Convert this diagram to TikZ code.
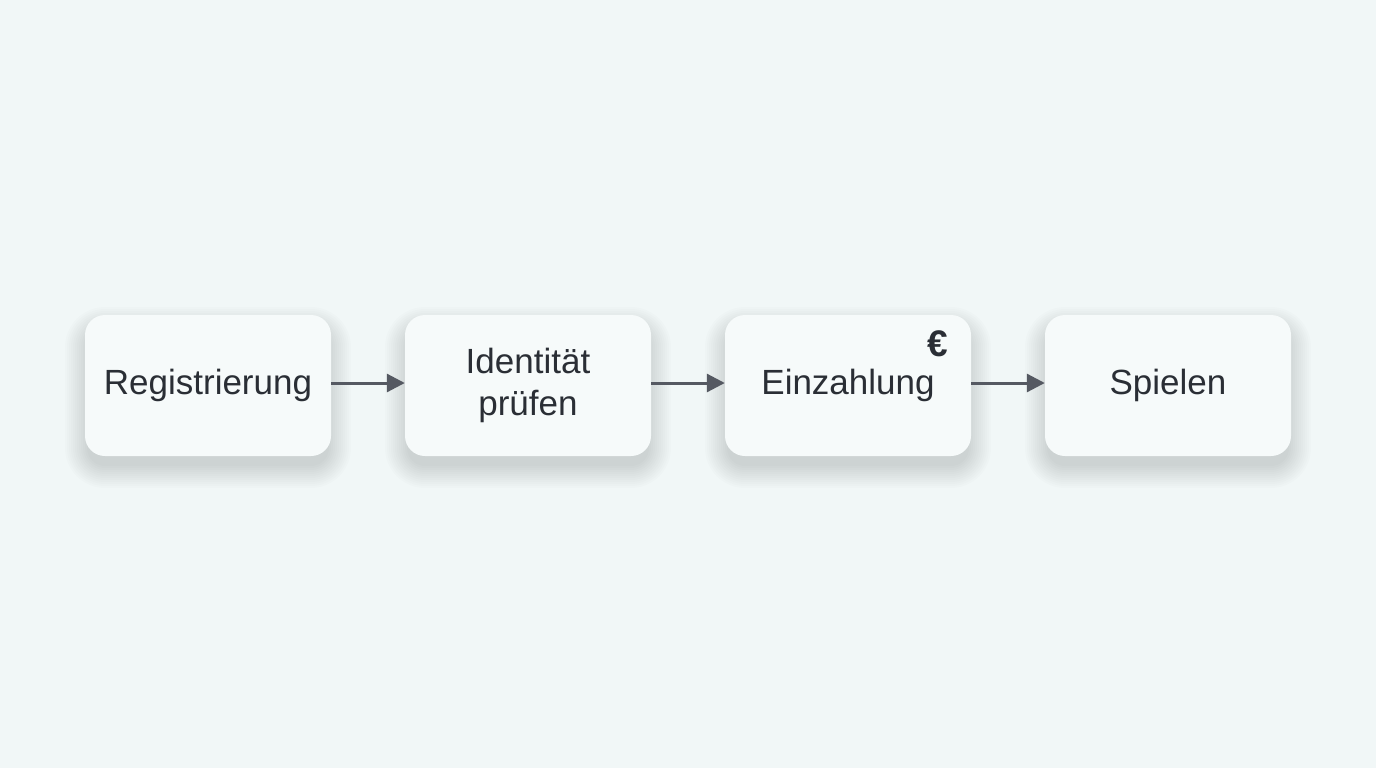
\documentclass[tikz,border=0pt]{standalone}
\usepackage{fontspec}
\setmainfont{Liberation Sans}
\usetikzlibrary{arrows.meta}
\definecolor{bg}{HTML}{F1F7F7}
\definecolor{boxfill}{HTML}{F6FAFA}
\definecolor{txt}{HTML}{2A2E35}
\definecolor{arr}{HTML}{555962}
\tikzset{
  stepbox/.style={rounded corners=20pt, minimum width=246pt, minimum height=141pt,
    fill=boxfill, draw=none, align=center, text=txt,
    font=\fontsize{35}{42}\selectfont},
  flow/.style={draw=arr, line width=3pt, -{Triangle[length=18pt,width=18pt]}},
  softshadow/.style={fill=black, fill opacity=0.011}
}
\newcommand{\boxshadow}[2]{%
  \foreach \e in {-2,0,...,20}{%
    \fill[softshadow, rounded corners={20pt+\e pt}]
      ({#1-123-\e},{#2-70.5-\e+12}) rectangle ({#1+123+\e},{#2+70.5+\e+12});
  }%
}
\begin{document}
\begin{tikzpicture}[x=1pt,y=-1pt]
\fill[bg] (0,0) rectangle (1376,768);
\useasboundingbox (0,0) rectangle (1376,768);
\boxshadow{208}{385.5}
\boxshadow{528}{385.5}
\boxshadow{848}{385.5}
\boxshadow{1168}{385.5}
\node[stepbox] (a) at (208,385.5) {Registrierung};
\node[stepbox] (b) at (528,385.5) {Identität\\prüfen};
\node[stepbox] (c) at (848,385.5) {Einzahlung};
\node[stepbox] (d) at (1168,385.5) {Spielen};
\node[text=txt, font=\fontsize{37}{37}\selectfont\bfseries] (eur) at (938,344) {€};
\draw[flow] (a.east |- 0,383) -- (b.west |- 0,383);
\draw[flow] (b.east |- 0,383) -- (c.west |- 0,383);
\draw[flow] (c.east |- 0,383) -- (d.west |- 0,383);
\end{tikzpicture}
\end{document}
